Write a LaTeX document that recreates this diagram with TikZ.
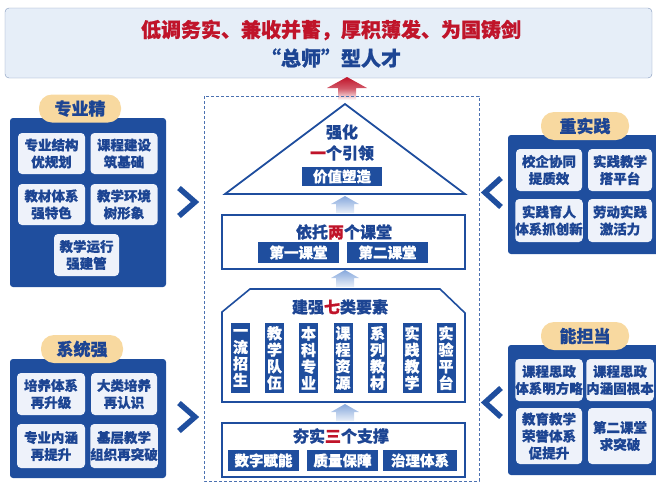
\documentclass[tikz,border=0pt]{standalone}
\usepackage{fontspec}
\setmainfont{Noto Sans CJK SC}[BoldFeatures={FakeBold=0.7}]
\definecolor{pblue}{HTML}{1F4E9E}
\definecolor{tblue}{HTML}{1D4593}
\definecolor{inbg}{HTML}{EEF2FA}
\definecolor{pillc}{HTML}{F8D9A0}
\definecolor{redc}{HTML}{C0142A}
\definecolor{bannerbg}{HTML}{E6EEF8}
\definecolor{bannerdr}{HTML}{8096BA}
\definecolor{arrtop}{HTML}{86A8DC}
\definecolor{arrbot}{HTML}{EAF0F9}
\newcommand\myfs[2]{\fontsize{#1pt}{#2pt}\selectfont}
\newcommand\bluearr[3]{%
  \shade[top color=arrtop, bottom color=arrbot]
    (#1-14,#2+8) -- (#1,#2) -- (#1+14,#2+8) -- (#1+9,#2+8) -- (#1+9,#3) -- (#1-9,#3) -- (#1-9,#2+8) -- cycle;}
\begin{document}
\begin{tikzpicture}[x=1pt,y=-1pt,
  panel/.style={fill=pblue, rounded corners=3pt, inner sep=0pt},
  inbox/.style={fill=inbg, rounded corners=4pt, text=tblue, font=\bfseries\myfs{13.5}{17}, align=center, inner sep=0pt},
  pill/.style={fill=pillc, rounded corners=13pt, text=tblue, font=\bfseries\myfs{17}{18}, inner sep=0pt, minimum height=28pt, minimum width=82pt},
  bbox/.style={fill=pblue, text=white, font=\bfseries\myfs{14.5}{16}, inner sep=0pt, minimum height=21pt},
  vbox/.style={fill=pblue, text=white, font=\bfseries\myfs{15}{16.5}, align=center, inner sep=0pt, minimum width=19pt, minimum height=70pt},
  frame/.style={draw=pblue, line width=1.6pt, inner sep=0pt},
  ttl/.style={text=tblue, font=\bfseries\myfs{16}{18}, inner sep=0pt},
  chev/.style={draw=pblue, line width=5.5pt, miter limit=10},
]
\useasboundingbox (0,0) rectangle (656,485);
% banner
\node[draw=bannerdr, fill=bannerbg, rounded corners=4pt, minimum width=647pt, minimum height=70pt, inner sep=0pt] (banner) at (328.5,43) {};
\node[text=redc, font=\bfseries\myfs{20}{22}, inner sep=0pt] (t1) at (331,30) {低调务实、兼收并蓄，厚积薄发、为国铸剑};
\node[text=tblue, font=\bfseries\myfs{20}{22}, inner sep=0pt] (t2) at (331,58) {“总师”型人才};
% red arrow
\shade[top color=redc, bottom color=white, middle color=redc!70]
  (327,88) -- (347,77) -- (367,88) -- (356,88) -- (356,100) -- (338,100) -- (338,88) -- cycle;
% dashed center frame
\draw[pblue!80, line width=1pt, dash pattern=on 3pt off 2pt] (204,96) rectangle (479,481);
% triangle
\coordinate (apex) at (345,104);
\coordinate (bl) at (225,194);
\coordinate (br) at (465,194);
\draw[pblue, line width=1.8pt, line join=miter] (bl) -- (apex) -- (br) -- cycle;
\node[ttl] (q1) at (342,132) {强化};
\node[ttl] (q2) at (342,153) {{\color{redc}一}个引领};
\node[bbox, minimum width=80pt, minimum height=19pt] (q3) at (342,176.5) {价值塑造};
\bluearr{345}{196}{213}
% box 2
\node[frame, minimum width=243pt, minimum height=54pt] (b2) at (343.5,242) {};
\node[ttl] (b2t) at (344,232) {依托{\color{redc}两}个课堂};
\node[bbox, minimum width=81pt] (b2a) at (298.5,252.5) {第一课堂};
\node[bbox, minimum width=81pt] (b2b) at (387.5,252.5) {第二课堂};
\bluearr{345}{270}{287}
% box 3
\draw[pblue, line width=1.6pt, line join=miter] (222,402) -- (222,312) -- (250,289) -- (440,289) -- (465,313) -- (465,402) -- cycle;
\node[ttl] (b3t) at (340,307) {建强{\color{redc}七}类要素};
\node[vbox] (v1) at (240.5,358) {一\\流\\招\\生};
\node[vbox] (v2) at (274.5,358) {教\\学\\队\\伍};
\node[vbox] (v3) at (308.5,358) {本\\科\\专\\业};
\node[vbox] (v4) at (343,358) {课\\程\\资\\源};
\node[vbox] (v5) at (377.5,358) {系\\列\\教\\材};
\node[vbox] (v6) at (412,358) {实\\践\\教\\学};
\node[vbox] (v7) at (446,358) {实\\验\\平\\台};
\bluearr{345}{404}{421}
% box 4
\node[frame, minimum width=243pt, minimum height=54pt] (b4) at (343.5,450) {};
\node[ttl] (b4t) at (341,436) {夯实{\color{redc}三}个支撑};
\node[bbox, minimum width=71pt] (b4a) at (263.5,460.5) {数字赋能};
\node[bbox, minimum width=71pt] (b4b) at (342.5,460.5) {质量保障};
\node[bbox, minimum width=74pt] (b4c) at (420,460.5) {治理体系};
% left top panel
\node[panel, minimum width=156pt, minimum height=169pt] (pA) at (88,202.5) {};
\node[pill] (pillA) at (80,108.5) {专业精};
\node[inbox, minimum width=67pt, minimum height=41pt] (a1) at (51.5,153.5) {专业结构\\优规划};
\node[inbox, minimum width=67pt, minimum height=41pt] (a2) at (124,153.5) {课程建设\\筑基础};
\node[inbox, minimum width=67pt, minimum height=41pt] (a3) at (51.5,204.5) {教材体系\\强特色};
\node[inbox, minimum width=67pt, minimum height=41pt] (a4) at (124,204.5) {教学环境\\树形象};
\node[inbox, minimum width=65pt, minimum height=42pt] (a5) at (86.5,255) {教学运行\\强建管};
\draw[chev] (179,188) -- (195,202) -- (179,216);
% left bottom panel
\node[panel, minimum width=156pt, minimum height=119pt] (pB) at (88,418.5) {};
\node[pill] (pillB) at (82,349) {系统强};
\node[inbox, minimum width=68pt, minimum height=42pt] (b1) at (51,394) {培养体系\\再升级};
\node[inbox, minimum width=66pt, minimum height=42pt] (bb2) at (124,394) {大类培养\\再认识};
\node[inbox, minimum width=68pt, minimum height=44pt] (b3) at (51,446) {专业内涵\\再提升};
\node[inbox, minimum width=66pt, minimum height=44pt] (bb4) at (124,446) {基层教学\\组织再突破};
\draw[chev] (179,403) -- (195,417) -- (179,431);
% right top panel
\node[panel, minimum width=152pt, minimum height=119pt] (pC) at (584,194.5) {};
\node[pill, minimum width=88pt] (pillC) at (585,126) {重实践};
\node[inbox, minimum width=66pt, minimum height=42pt] (c1) at (549,170) {校企协同\\提质效};
\node[inbox, minimum width=64pt, minimum height=42pt] (c2) at (620,170) {实践教学\\搭平台};
\node[inbox, minimum width=66pt, minimum height=43pt] (c3) at (549,220.5) {实践育人\\体系抓创新};
\node[inbox, minimum width=64pt, minimum height=43pt] (c4) at (620,220.5) {劳动实践\\激活力};
\draw[chev] (501,178) -- (485,192.5) -- (501,207);
% right bottom panel
\node[panel, minimum width=152pt, minimum height=130pt] (pD) at (584,410) {};
\node[pill, minimum width=88pt] (pillD) at (585,336) {能担当};
\node[inbox, minimum width=66pt, minimum height=42pt] (d1) at (549,380) {课程思政\\体系明方略};
\node[inbox, minimum width=64pt, minimum height=42pt] (d2) at (620,380) {课程思政\\内涵固根本};
\node[inbox, minimum width=66pt, minimum height=56pt] (d3) at (549,436) {教育教学\\荣誉体系\\促提升};
\node[inbox, minimum width=64pt, minimum height=56pt] (d4) at (620,436) {第二课堂\\求突破};
\draw[chev] (501,388) -- (485,402.5) -- (501,417);
\end{tikzpicture}
\end{document}
